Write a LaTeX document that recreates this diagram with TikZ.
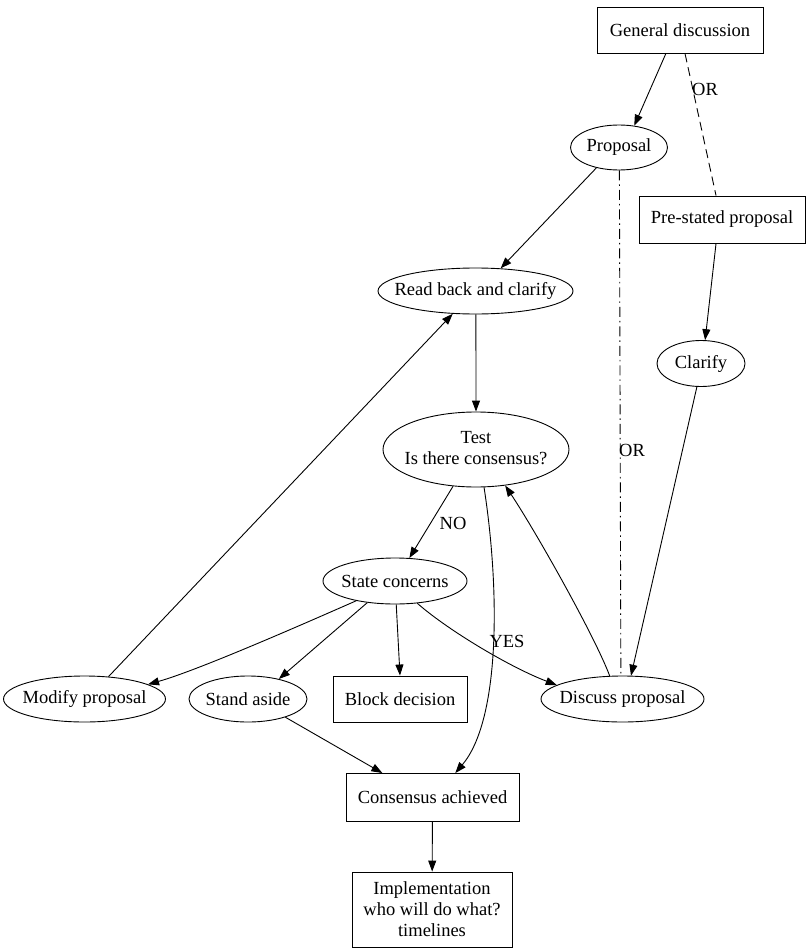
\documentclass[tikz,border=0pt]{standalone}
\usepackage{fontspec}
\setmainfont{Liberation Serif}
\usetikzlibrary{arrows.meta,shapes.geometric}
\newcommand\zw[1]{\makebox[0pt]{#1}}
\begin{document}
\begin{tikzpicture}[x=1pt,y=-1pt,
  every node/.style={font=\fontsize{18.5}{21}\selectfont},
  box/.style={draw,rectangle,inner sep=0pt,line width=0.9pt,align=center},
  ell/.style={draw,ellipse,inner sep=0pt,line width=0.9pt},
  edge/.style={line width=0.9pt,-{Triangle[length=11pt,width=8pt]}},
  plain/.style={line width=0.9pt},
  lbl/.style={inner sep=0pt}]
\useasboundingbox (0,0) rectangle (809,952);
% nodes
\node[box,minimum width=166pt,minimum height=46pt] (gd) at (680,30) {General discussion};
\node[ell,minimum width=97pt,minimum height=45pt] (prop) at (619,147.5) {\zw{Proposal}};
\node[box,minimum width=166pt,minimum height=47pt] (pre) at (722,219.5) {Pre-stated proposal};
\node[ell,minimum width=195pt,minimum height=46pt] (rb) at (475.5,291) {\zw{Read back and clarify}};
\node[ell,minimum width=88pt,minimum height=46pt] (cl) at (701,363.5) {\zw{Clarify}};
\node[ell,minimum width=186pt,minimum height=75pt] (test) at (476,449.5) {\zw{\begin{tabular}{@{}c@{}}Test\\Is there consensus?\end{tabular}}};
\node[ell,minimum width=144pt,minimum height=46pt] (sc) at (395,581) {\zw{State concerns}};
\node[ell,minimum width=162pt,minimum height=46pt] (mod) at (84.5,699) {\zw{Modify proposal}};
\node[ell,minimum width=118pt,minimum height=46pt] (sa) at (248,699) {\zw{Stand aside}};
\node[box,minimum width=134pt,minimum height=46pt] (block) at (400,699) {Block decision};
\node[ell,minimum width=163pt,minimum height=46pt] (disc) at (622.5,699) {\zw{Discuss proposal}};
\node[box,minimum width=173pt,minimum height=48pt] (cons) at (432.5,797.5) {Consensus achieved};
\node[box,minimum width=160pt,minimum height=75pt] (impl) at (432,909.5) {Implementation\\who will do what?\\timelines};
% labels
\node[lbl] (lor1) at (705,89) {OR};
\node[lbl] (lor2) at (632,450) {OR};
\node[lbl] (lno) at (453,523) {NO};
\node[lbl] (lyes) at (507,641) {YES};
% edges
\draw[edge] (gd.-121) -- (prop.55);
\draw[plain,dash pattern=on 9pt off 5pt] (gd.-78) -- (pre.104);
\draw[edge] (prop.-138) -- (rb.42);
\draw[plain,dash pattern=on 10pt off 4pt on 1.5pt off 4pt] (prop.-89) -- (disc.94);
\draw[edge] (pre.-104) -- (cl.80);
\draw[edge] (cl.-100) -- (disc.70);
\draw[edge] (rb.-89) -- (test.90);
\draw[edge] (test.-122) -- (sc.58);
\draw[edge] (test.-78) .. controls +(16,103) and +(45,-53) .. (cons.47);
\draw[edge] (sc.-153) .. controls +(-50,22) and +(50,-14) .. (mod.13);
\draw[edge] (sc.-142) -- (sa.33);
\draw[edge] (sc.-87) -- (block.north);
\draw[edge] (sc.-45) .. controls +(32,28) and +(-45,-17) .. (disc.168);
\draw[edge] (mod.43) -- (rb.-135);
\draw[edge] (disc.119) .. controls +(-15,-40) and +(30,45) .. (test.-51);
\draw[edge] (sa.-26) -- (cons.154);
\draw[edge] (cons) -- (impl);
\end{tikzpicture}
\end{document}
